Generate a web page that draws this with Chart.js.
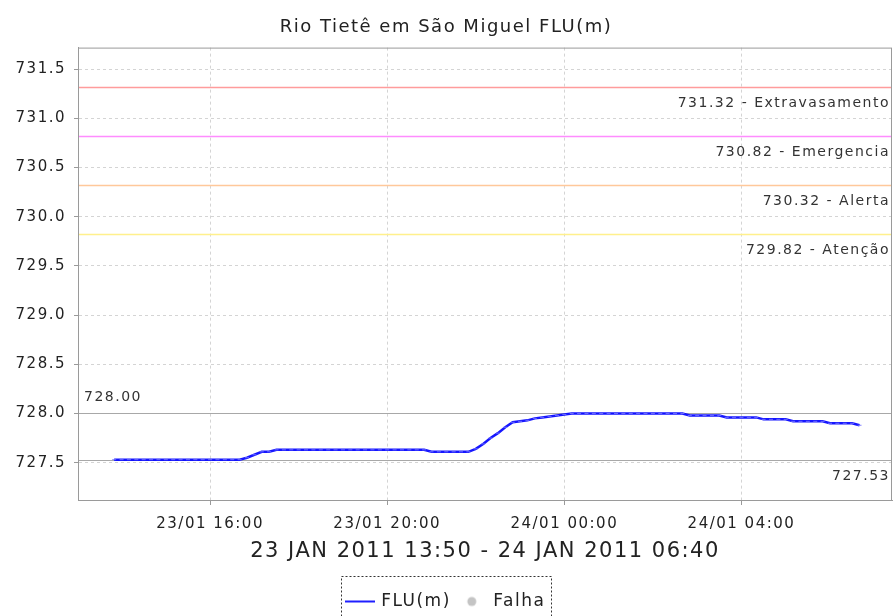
<!DOCTYPE html>
<html>
<head>
<meta charset="utf-8">
<script src="https://cdn.jsdelivr.net/npm/chart.js@4/dist/chart.umd.min.js"></script>
<style>
  html, body { margin: 0; padding: 0; background: #fff; }
  #grafica { display: block; }
</style>
</head>
<body>
<canvas id="grafica" width="893" height="616"></canvas>
<script>
// leituras a cada 10 min, 23/01 13:50 -> 24/01 06:40 (minutos desde 23/01 00:00)
const inicioMin = 830;
const passoMin = 10;
const nivel = [
  727.53, 727.53, 727.53, 727.53, 727.53, 727.53, 727.53, 727.53, 727.53, 727.53,
  727.53, 727.53, 727.53, 727.53, 727.53, 727.53, 727.53, 727.53,
  727.55, 727.58, 727.61, 727.61, 727.63,
  727.63, 727.63, 727.63, 727.63, 727.63, 727.63, 727.63, 727.63, 727.63, 727.63,
  727.63, 727.63, 727.63, 727.63, 727.63, 727.63, 727.63, 727.63, 727.63, 727.63,
  727.61, 727.61, 727.61, 727.61, 727.61, 727.61,
  727.64, 727.69, 727.75, 727.80, 727.86, 727.91,
  727.92, 727.93, 727.95, 727.96, 727.97, 727.98,
  727.99, 728.00, 728.00, 728.00, 728.00, 728.00, 728.00, 728.00, 728.00, 728.00,
  728.00, 728.00, 728.00, 728.00, 728.00, 728.00, 728.00,
  727.98, 727.98, 727.98, 727.98, 727.98,
  727.96, 727.96, 727.96, 727.96, 727.96,
  727.94, 727.94, 727.94, 727.94,
  727.92, 727.92, 727.92, 727.92, 727.92,
  727.90, 727.90, 727.90, 727.90,
  727.88
];

// cotas de referencia
const cotas = [731.32, 730.82, 730.32, 729.82];
const cotasNomes = ["Extravasamento", "Emergencia", "Alerta", "Atenção"];
const cotasCores = ["#ff9c9c", "#ff8cff", "#ffc89a", "#fff08c"];
const nivelMax = 728.00;
const nivelMin = 727.53;

// eixos
const xTicksMin = [960, 1200, 1440, 1680];
const xTicksLabels = ["23/01 16:00", "23/01 20:00", "24/01 00:00", "24/01 04:00"];
const xLimites = [781, 1884];
const yTicks = [727.5, 728.0, 728.5, 729.0, 729.5, 730.0, 730.5, 731.0, 731.5];
const yLimites = [727.12, 731.72];

const pontos = nivel.map((v, i) => ({ x: inicioMin + i * passoMin, y: v }));

const fonte = "'DejaVu Sans', sans-serif";
const espacamento = "1.5px";

function iconeLinha() {
  const c = document.createElement("canvas");
  c.width = 30; c.height = 4;
  const g = c.getContext("2d");
  g.fillStyle = "#1f1fff";
  g.fillRect(0, 1, 30, 2);
  return c;
}
function iconeCirculo() {
  const c = document.createElement("canvas");
  c.width = 12; c.height = 12;
  const g = c.getContext("2d");
  g.fillStyle = "#c4c4c4";
  g.beginPath(); g.arc(6, 6, 4.5, 0, Math.PI * 2); g.fill();
  return c;
}

const espacoLetras = {
  id: "espacoLetras",
  beforeUpdate(chart) { chart.ctx.letterSpacing = espacamento; },
  beforeDraw(chart) { chart.ctx.letterSpacing = espacamento; }
};

const linhasCota = {
  id: "linhasCota",
  beforeDatasetsDraw(chart) {
    const { ctx, chartArea: a, scales: { y } } = chart;
    ctx.save();
    ctx.letterSpacing = espacamento;
    ctx.font = "14px " + fonte;
    ctx.textBaseline = "middle";
    cotas.forEach((v, i) => {
      const py = Math.round(y.getPixelForValue(v)) + 0.5;
      ctx.strokeStyle = cotasCores[i];
      ctx.lineWidth = 1.5;
      ctx.beginPath(); ctx.moveTo(a.left, py); ctx.lineTo(a.right, py); ctx.stroke();
      ctx.fillStyle = "#333";
      ctx.textAlign = "right";
      ctx.fillText(v.toFixed(2) + " - " + cotasNomes[i], a.right - 2, py + 16);
    });
    // maximo e minimo do periodo
    [nivelMax, nivelMin].forEach((v, i) => {
      const py = Math.round(y.getPixelForValue(v)) + 0.5;
      ctx.strokeStyle = "#a8a8a8";
      ctx.lineWidth = 1;
      ctx.beginPath(); ctx.moveTo(a.left, py); ctx.lineTo(a.right, py); ctx.stroke();
      ctx.fillStyle = "#333";
      if (i === 0) {
        ctx.textAlign = "left";
        ctx.fillText(v.toFixed(2), a.left + 6, py - 16);
      } else {
        ctx.textAlign = "right";
        ctx.fillText(v.toFixed(2), a.right - 2, py + 16);
      }
    });
    ctx.restore();
  },
  afterDraw(chart) {
    const { ctx, chartArea: a, legend: l } = chart;
    ctx.save();
    // moldura da area do grafico
    ctx.strokeStyle = "#9a9a9a";
    ctx.lineWidth = 1;
    ctx.strokeRect(a.left + 0.5, a.top + 0.5, a.width - 1, a.height);
    // moldura tracejada da legenda
    const hb = l.legendHitBoxes;
    const x0 = Math.min(...hb.map(b => b.left)) - 6;
    const x1 = Math.max(...hb.map(b => b.left + b.width)) + 5;
    const y0 = Math.min(...hb.map(b => b.top)) - 17;
    ctx.strokeStyle = "#333";
    ctx.setLineDash([2, 2]);
    ctx.strokeRect(Math.round(x0) + 0.5, Math.round(y0) + 0.5, Math.round(x1 - x0), 80);
    ctx.restore();
  }
};

new Chart(document.getElementById("grafica"), {
  type: "line",
  data: {
    datasets: [{
      label: "FLU(m)",
      data: pontos,
      borderColor: "rgba(10, 10, 255, 0.95)",
      backgroundColor: "rgba(10, 10, 255, 0.95)",
      borderWidth: 2.5,
      pointStyle: "line",
      pointRadius: 2,
      pointBorderWidth: 1,
      pointBorderColor: "rgba(120, 120, 255, 0.9)",
      tension: 0
    }, {
      label: "Falha",
      data: [],
      borderColor: "#c4c4c4",
      backgroundColor: "#c4c4c4"
    }]
  },
  options: {
    responsive: false,
    animation: false,
    layout: { autoPadding: false, padding: { left: 0, right: 1, top: 0, bottom: -4 } },
    plugins: {
      title: {
        display: true,
        text: "Rio Tietê em São Miguel FLU(m)",
        color: "#222",
        font: { family: fonte, size: 18, weight: "normal" },
        padding: { top: 17, bottom: 9 }
      },
      legend: {
        position: "bottom",
        labels: {
          usePointStyle: true,
          pointStyleWidth: 26,
          color: "#222",
          font: { family: fonte, size: 17 },
          padding: 8,
          generateLabels: (chart) => [
            { text: "FLU(m)", pointStyle: iconeLinha(), fillStyle: "#1f1fff", strokeStyle: "#1f1fff", lineWidth: 0, datasetIndex: 0, fontColor: "#222" },
            { text: "Falha", pointStyle: iconeCirculo(), fillStyle: "#c4c4c4", strokeStyle: "#c4c4c4", lineWidth: 0, datasetIndex: 1, fontColor: "#222" }
          ]
        }
      },
      tooltip: { enabled: false }
    },
    scales: {
      x: {
        type: "linear",
        min: xLimites[0],
        max: xLimites[1],
        afterBuildTicks: (s) => { s.ticks = xTicksMin.map(v => ({ value: v })); },
        afterFit: (s) => { s.height = 85; },
        ticks: {
          callback: (v) => xTicksLabels[xTicksMin.indexOf(v)],
          color: "#222",
          font: { family: fonte, size: 15 },
          padding: 10,
          maxRotation: 0
        },
        grid: {
          color: "#d4d4d4",
          tickColor: "#9a9a9a",
          tickLength: 5
        },
        border: { color: "#9a9a9a", dash: [3, 3] },
        title: {
          display: true,
          text: "23 JAN 2011 13:50 - 24 JAN 2011 06:40",
          color: "#222",
          font: { family: fonte, size: 21 },
          padding: { top: 2, bottom: 21 }
        }
      },
      y: {
        min: yLimites[0],
        max: yLimites[1],
        afterBuildTicks: (s) => { s.ticks = yTicks.map(v => ({ value: v })); },
        afterFit: (s) => { s.width = 78; },
        ticks: {
          callback: (v) => v.toFixed(1),
          color: "#222",
          font: { family: fonte, size: 15 },
          padding: 8
        },
        grid: {
          color: "#d4d4d4",
          tickColor: "#9a9a9a",
          tickLength: 4
        },
        border: { color: "#9a9a9a", dash: [3, 3] }
      }
    }
  },
  plugins: [espacoLetras, linhasCota]
});
</script>
</body>
</html>
